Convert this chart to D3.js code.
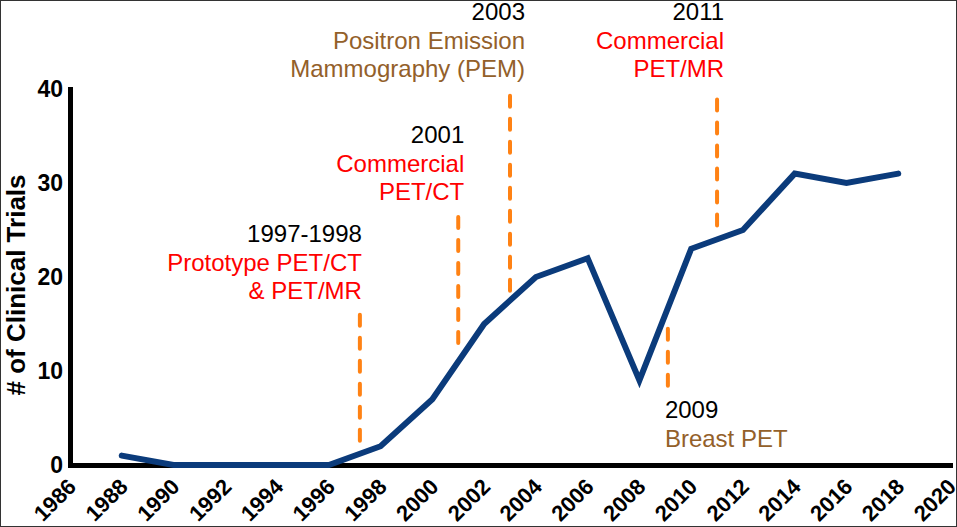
<!DOCTYPE html>
<html>
<head>
<meta charset="utf-8">
<script src="https://cdn.jsdelivr.net/npm/d3@7"></script>
<style>
  html, body { margin: 0; padding: 0; background: #fff; }
  svg { display: block; font-family: "Liberation Sans", Arial, sans-serif; }
</style>
</head>
<body>
<div id="chart"></div>
<script>
// data
const years = [1988, 1990, 1992, 1994, 1996, 1998, 2000, 2002, 2004, 2006, 2008, 2010, 2012, 2014, 2016, 2018];
const trials = [1, 0, 0, 0, 0, 2, 7, 15, 20, 22, 9, 23, 25, 31, 30, 31];
const xTicks = d3.range(1986, 2021, 2);
const yTicks = [0, 10, 20, 30, 40];

// milestones: year of the dashed marker, its span in # of trials, and the label
const eventYears = [1997.2, 2001, 2003, 2009.1, 2011];
const eventSpans = [[1.5, 16.2], [12.1, 26.6], [18.1, 39.5], [8.1, 14.7], [24.8, 39.1]];
const eventDates = ['1997-1998', '2001', '2003', '2009', '2011'];
const eventLabels = [
    ['Prototype PET/CT', '& PET/MR'],
    ['Commercial', 'PET/CT'],
    ['Positron Emission', 'Mammography (PEM)'],
    ['Breast PET'],
    ['Commercial', 'PET/MR']
];
const eventKinds = ['hybrid', 'hybrid', 'breast', 'breast', 'hybrid'];

const width = 957;
const height = 527;
const kindColor = { hybrid: '#ff0000', breast: '#93602a' };
// label placement, per milestone: anchor, offset from marker, first baseline
const labelPos = [
    { anchor: 'end', dx: 2, top: 242 },
    { anchor: 'end', dx: 6, top: 143 },
    { anchor: 'end', dx: 15, top: 20 },
    { anchor: 'start', dx: -3, top: 418 },
    { anchor: 'end', dx: 7, top: 20 }
];
const lineGap = 28.5;

const svg = d3.select('#chart')
    .append('svg')
    .attr('width', width)
    .attr('height', height);

svg.append('rect')
    .attr('x', 0.5).attr('y', 0.5)
    .attr('width', width - 1).attr('height', height - 1)
    .attr('fill', '#fff')
    .attr('stroke', '#333');

const x = d3.scaleLinear().domain([1986, 2020]).range([70, 950]);
const y = d3.scaleLinear().domain([0, 40]).range([465, 89]);

// axes
const xAxis = g => g
    .attr('transform', `translate(0, ${y(0)})`)
    .call(d3.axisBottom(x).tickValues(xTicks).tickSize(0).tickSizeOuter(0).tickFormat(d3.format('d')))
    .call(g => g.select('.domain').attr('stroke', '#000').attr('stroke-width', 5).attr('stroke-linecap', 'square'))
    .call(g => g.selectAll('.tick text')
        .attr('font-size', '22px')
        .attr('font-weight', 'bold')
        .attr('fill', '#000')
        .attr('text-anchor', 'end')
        .attr('y', 0)
        .attr('dy', 0)
        .attr('transform', 'translate(7, 23) rotate(-45)'));

const yAxis = g => g
    .attr('transform', `translate(${x(1986)}, 0)`)
    .call(d3.axisLeft(y).tickValues(yTicks).tickSize(0).tickSizeOuter(0).tickPadding(7))
    .call(g => g.select('.domain').attr('stroke', '#000').attr('stroke-width', 5).attr('stroke-linecap', 'square'))
    .call(g => g.selectAll('.tick text')
        .attr('font-size', '23px')
        .attr('font-weight', 'bold')
        .attr('fill', '#000'));

svg.append('g').call(xAxis);
svg.append('g').call(yAxis);

svg.append('text')
    .attr('transform', `translate(25, ${(y(0) + y(40)) / 2 + 8}) rotate(-90)`)
    .attr('text-anchor', 'middle')
    .attr('font-size', '26px')
    .attr('font-weight', 'bold')
    .text('# of Clinical Trials');

// milestone markers
const events = eventYears.map((yr, i) => ({
    year: yr,
    span: eventSpans[i],
    date: eventDates[i],
    lines: eventLabels[i],
    kind: eventKinds[i],
    pos: labelPos[i]
}));

svg.append('g')
    .selectAll('line')
    .data(events)
    .join('line')
    .attr('x1', d => x(d.year))
    .attr('x2', d => x(d.year))
    .attr('y1', d => y(d.span[1]) + 2)
    .attr('y2', d => y(d.span[0]) - 2)
    .attr('stroke', '#ff8214')
    .attr('stroke-width', 4)
    .attr('stroke-linecap', 'round')
    .attr('stroke-dasharray', '11,12');

const labels = svg.append('g')
    .selectAll('text')
    .data(events)
    .join('text')
    .attr('font-size', '24px')
    .attr('text-anchor', d => d.pos.anchor);

labels.selectAll('tspan')
    .data(d => [{ t: d.date, c: '#000', d }].concat(d.lines.map(l => ({ t: l, c: kindColor[d.kind], d }))))
    .join('tspan')
    .attr('x', o => x(o.d.year) + o.d.pos.dx)
    .attr('y', (o, i) => o.d.pos.top + i * lineGap)
    .attr('fill', o => o.c)
    .text(o => o.t);

// trials line
const line = d3.line()
    .x((d, i) => x(years[i]))
    .y(d => y(d));

svg.append('path')
    .datum(trials)
    .attr('d', line)
    .attr('fill', 'none')
    .attr('stroke', '#0b3b7b')
    .attr('stroke-width', 6)
    .attr('stroke-linecap', 'round')
    .attr('stroke-linejoin', 'miter');
</script>
</body>
</html>
